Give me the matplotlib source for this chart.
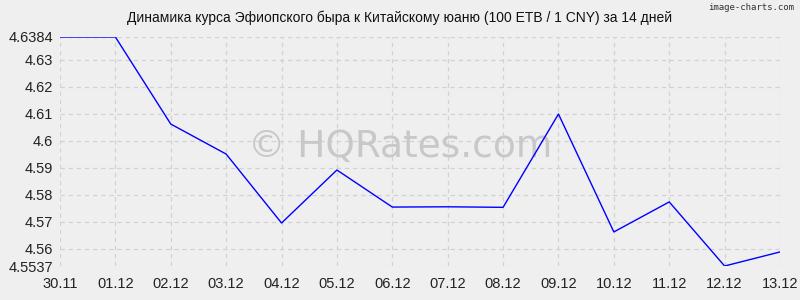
import matplotlib
matplotlib.use("Agg")
import matplotlib.pyplot as plt

# курс 100 ETB / 1 CNY
dates = ["30.11", "01.12", "02.12", "03.12", "04.12", "05.12", "06.12",
         "07.12", "08.12", "09.12", "10.12", "11.12", "12.12", "13.12"]
rates = [4.6384, 4.6384, 4.6062, 4.5951, 4.5696, 4.5892, 4.5755,
         4.5756, 4.5754, 4.6099, 4.5663, 4.5774, 4.5537, 4.5589]
y_ticks = [4.5537, 4.56, 4.57, 4.58, 4.59, 4.6, 4.61, 4.62, 4.63, 4.6384]
y_labels = ["4.5537", "4.56", "4.57", "4.58", "4.59", "4.6", "4.61", "4.62", "4.63", "4.6384"]

plt.rcParams['font.family'] = ['Liberation Sans', 'DejaVu Sans']
bg = '#efefef'

fig = plt.figure(figsize=(8, 3), dpi=100, facecolor=bg)
ax = fig.add_axes([0.075, 0.1133, 0.9, 0.7634], facecolor=bg)

x = range(len(dates))
ax.plot(x, rates, color='#0000ff', linewidth=1.0, zorder=3)

ax.set_xlim(0, len(dates) - 1)
ax.set_ylim(min(y_ticks), max(y_ticks))
ax.set_xticks(list(x))
ax.set_xticklabels(dates)
ax.set_yticks(y_ticks)
ax.set_yticklabels(y_labels)
ax.tick_params(length=0, labelsize=10.5, colors='#222222', pad=5)
ax.tick_params(axis='x', pad=8)

ax.grid(True, color='#d2d2d2', linestyle=(0, (3.5, 3)), linewidth=0.9)
for s in ax.spines.values():
    s.set_visible(False)

# водяной знак (под линией)
ax.text(0.5, 0.51, "© HQRates.com", transform=fig.transFigure, ha='center', va='center',
        fontsize=27, color='#c8c8c8', family='DejaVu Sans', zorder=2)

fig.text(0.5, 0.94, "Динамика курса Эфиопского быра к Китайскому юаню (100 ETB / 1 CNY) за 14 дней",
         ha='center', va='center', fontsize=10, color='#111111')
fig.text(0.993, 0.975, "image-charts.com", ha='right', va='center', fontsize=6.5,
         color='#333333', family='DejaVu Sans Mono')

fig.savefig("out.png", dpi=100, facecolor=bg)
